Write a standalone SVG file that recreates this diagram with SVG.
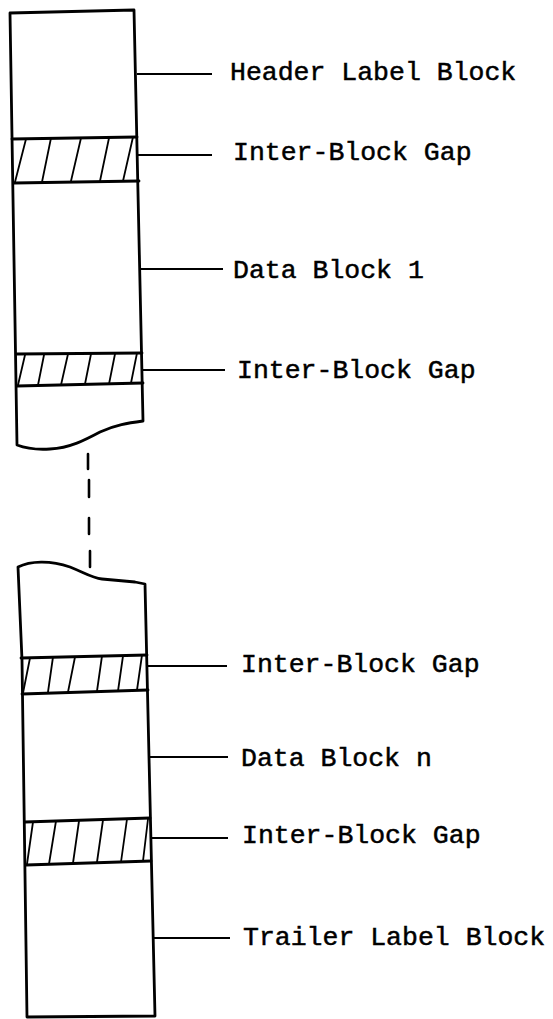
<svg xmlns="http://www.w3.org/2000/svg" width="553" height="1019" viewBox="0 0 553 1019">
<style>
.tape{fill:none;stroke:#000;stroke-width:2.8;stroke-linejoin:round;stroke-linecap:round}
.gap{fill:none;stroke:#000;stroke-width:2.8;stroke-linecap:round}
.hatch{fill:none;stroke:#000;stroke-width:1.8;stroke-linecap:round}
.lead{fill:none;stroke:#000;stroke-width:2}
.dash{fill:none;stroke:#000;stroke-width:2.6;stroke-linecap:round}
.lbl{font-family:"Liberation Mono","Courier New",monospace;font-size:26.5px;fill:#000;stroke:#000;stroke-width:0.5}
</style>
<rect width="553" height="1019" fill="#fff"/>
<g id="tape-top">
<path class="tape" d="M17,445 L10,13 L134,10 L143,421 C128,423 115,425 100,432 C85,440 70,448 50,449 C35,450 25,448 17,445 Z"/>
</g>
<g id="tape-bottom">
<path class="tape" d="M18,567 C30,561 50,560 70,567 C85,573 92,578 102,579 L135,582 L145,584 L155,1016 L27,1017 L22,660 Z"/>
</g>
<g id="gap-1">
<path class="gap" d="M12,139 L137,137 M14,183 L139,181"/>
<path class="hatch" d="M15,182 L26,139 M42,182 L51,138 M71,181 L81,138 M100,181 L109,138 M123,181 L133,137"/>
</g>
<g id="gap-2">
<path class="gap" d="M17,354 L142,353 M17,386 L143,383"/>
<path class="hatch" d="M18,385 L25,355 M38,385 L44,355 M61,385 L68,354 M85,384 L91,354 M109,384 L115,354 M131,383 L137,353"/>
</g>
<g id="gap-3">
<path class="gap" d="M21,658 L147,655 M22,694 L148,690"/>
<path class="hatch" d="M23,693 L30,658 M48,692 L53,657 M68,692 L75,657 M97,691 L102,656 M118,691 L123,656 M137,690 L142,655"/>
</g>
<g id="gap-4">
<path class="gap" d="M25,822 L150,818 M26,865 L151,861"/>
<path class="hatch" d="M27,864 L33,822 M49,864 L56,821 M73,863 L79,821 M97,862 L103,820 M121,862 L127,819 M143,861 L148,819"/>
</g>
<g id="connectors">
<path class="lead" d="M137,74 L212,74"/>
<path class="lead" d="M138,155 L212,155"/>
<path class="lead" d="M140,269 L223,269"/>
<path class="lead" d="M143,370 L225,370"/>
<path class="lead" d="M147,666 L227,666"/>
<path class="lead" d="M150,757 L228,757"/>
<path class="lead" d="M152,838 L228,838"/>
<path class="lead" d="M154,938 L230,938"/>
<path class="dash" d="M88,454 L88,469 M89,480 L89,497 M89,518 L89,534 M90,551 L90,567"/>
</g>
<g id="label-header"><text class="lbl" x="230" y="80">Header Label Block</text></g>
<g id="label-gap-1"><text class="lbl" x="233" y="160">Inter-Block Gap</text></g>
<g id="label-data-1"><text class="lbl" x="233" y="278">Data Block 1</text></g>
<g id="label-gap-2"><text class="lbl" x="237" y="378">Inter-Block Gap</text></g>
<g id="label-gap-3"><text class="lbl" x="241" y="672">Inter-Block Gap</text></g>
<g id="label-data-n"><text class="lbl" x="241" y="766">Data Block n</text></g>
<g id="label-gap-4"><text class="lbl" x="242" y="843">Inter-Block Gap</text></g>
<g id="label-trailer"><text class="lbl" x="243" y="945">Trailer Label Block</text></g>
</svg>
